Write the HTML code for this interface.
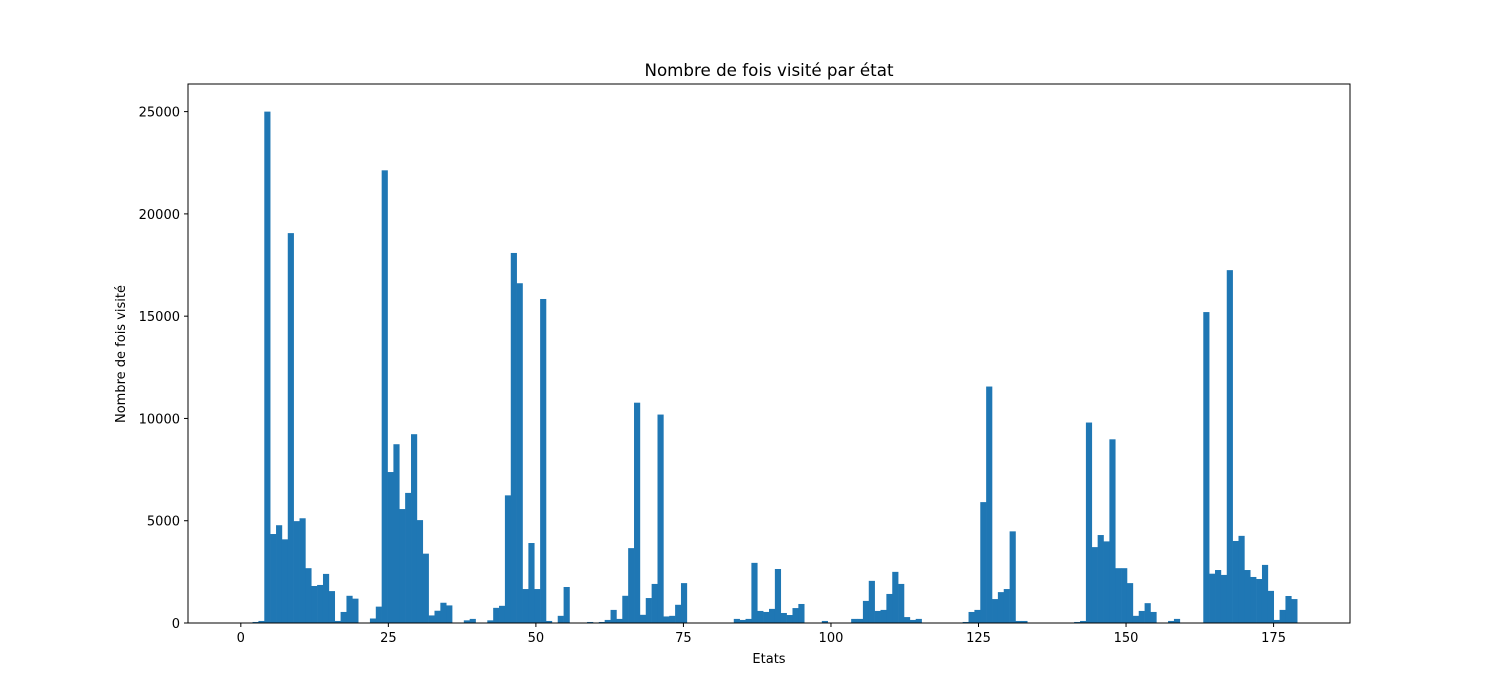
<!DOCTYPE html>
<html><head><meta charset="utf-8"><style>
body{margin:0;background:#fff}
svg{display:block;font-family:"DejaVu Sans","Liberation Sans",sans-serif}
</style></head><body>
<svg id="chart" width="1500" height="700" viewBox="0 0 1500 700" xmlns="http://www.w3.org/2000/svg">
<rect width="1500" height="700" fill="#fff"/>
<text x="769" y="76" font-size="16.7" text-anchor="middle">Nombre de fois visité par état</text>
<text x="769" y="663" font-size="13" text-anchor="middle">Etats</text>
<text transform="translate(125,354) rotate(-90)" font-size="13" text-anchor="middle">Nombre de fois visité</text>
<g id="bars"></g>
<g id="axes"></g>
</svg>
<script>
const counts = {
3:100,2:50,4:25000,5:4350,6:4780,7:4090,8:19060,9:4980,10:5120,11:2680,12:1810,13:1860,14:2400,15:1560,16:100,17:540,18:1330,19:1190,
22:220,23:800,24:22130,25:7380,26:8740,27:5570,28:6360,29:9230,30:5030,31:3390,32:370,33:600,34:990,35:860,
38:130,39:200,42:130,43:740,44:840,45:6240,46:18090,47:16610,48:1660,49:3910,50:1660,51:15840,52:100,54:350,55:1760,
59:50,61:50,62:150,63:640,64:200,65:1330,66:3660,67:10770,68:400,69:1220,70:1910,71:10190,72:320,73:350,74:890,75:1950,
84:200,85:150,86:200,87:2940,88:590,89:540,90:690,91:2640,92:490,93:390,94:730,95:930,99:100,
104:200,105:200,106:1080,107:2060,108:590,109:640,110:1420,111:2500,112:1910,113:290,114:150,115:200,
123:50,124:540,125:640,126:5910,127:11560,128:1170,129:1510,130:1660,131:4480,132:100,133:100,
142:50,143:100,144:9800,145:3710,146:4300,147:3990,148:8980,149:2680,150:2680,151:1950,152:350,153:590,154:970,155:540,158:100,159:200,
164:15200,165:2410,166:2590,167:2350,168:17250,169:4010,170:4260,171:2590,172:2250,173:2150,174:2840,175:1570,176:150,177:640,178:1320,179:1170
};
const nBins = 180;
const stateMin = 0;
const stateMax = 179;
const values = [];
for (let i = 0; i < nBins; i++) values.push(counts[i] || 0);
const xTicks = [0,25,50,75,100,125,150,175];
const yTicks = [0,5000,10000,15000,20000,25000];

const L=188,R=1350,T=84,B=623;
const xMin=-8.95,xMax=187.95,yMax=26350;
const xs=v=>L+(v-xMin)/(xMax-xMin)*(R-L);
const ys=v=>B-v/yMax*(B-T);
const NS="http://www.w3.org/2000/svg";
const bars=document.getElementById('bars');
const bw=(stateMax-stateMin)/nBins;
values.forEach((v,i)=>{
  if(v<=0) return;
  const r=document.createElementNS(NS,'rect');
  const x0=xs(stateMin+i*bw), x1=xs(stateMin+(i+1)*bw);
  r.setAttribute('x',x0);r.setAttribute('width',x1-x0+0.3);
  r.setAttribute('y',ys(v));r.setAttribute('height',B-ys(v));
  r.setAttribute('fill','#1f77b4');
  
  
  bars.appendChild(r);
});
const axes=document.getElementById('axes');
const frame=document.createElementNS(NS,'rect');
frame.setAttribute('x',L);frame.setAttribute('y',T);frame.setAttribute('width',R-L);frame.setAttribute('height',B-T);
frame.setAttribute('fill','none');frame.setAttribute('stroke','#000');frame.setAttribute('stroke-width','1');


axes.appendChild(frame);
xTicks.forEach(t=>{
  const x=xs(t);
  const l=document.createElementNS(NS,'line');
  l.setAttribute('x1',x);l.setAttribute('x2',x);l.setAttribute('y1',B);l.setAttribute('y2',B+4);l.setAttribute('stroke','#000');
  
  
  axes.appendChild(l);
  const tx=document.createElementNS(NS,'text');
  tx.setAttribute('x',x);tx.setAttribute('y',B+19);tx.setAttribute('font-size','13');tx.setAttribute('text-anchor','middle');
  tx.textContent=t;
  
  
  axes.appendChild(tx);
});
yTicks.forEach(t=>{
  const y=ys(t);
  const l=document.createElementNS(NS,'line');
  l.setAttribute('x1',L-4);l.setAttribute('x2',L);l.setAttribute('y1',y);l.setAttribute('y2',y);l.setAttribute('stroke','#000');
  
  
  axes.appendChild(l);
  const tx=document.createElementNS(NS,'text');
  tx.setAttribute('x',L-8);tx.setAttribute('y',y+5);tx.setAttribute('font-size','13');tx.setAttribute('text-anchor','end');
  tx.textContent=t;
  
  
  axes.appendChild(tx);
});
</script>
</body></html>
